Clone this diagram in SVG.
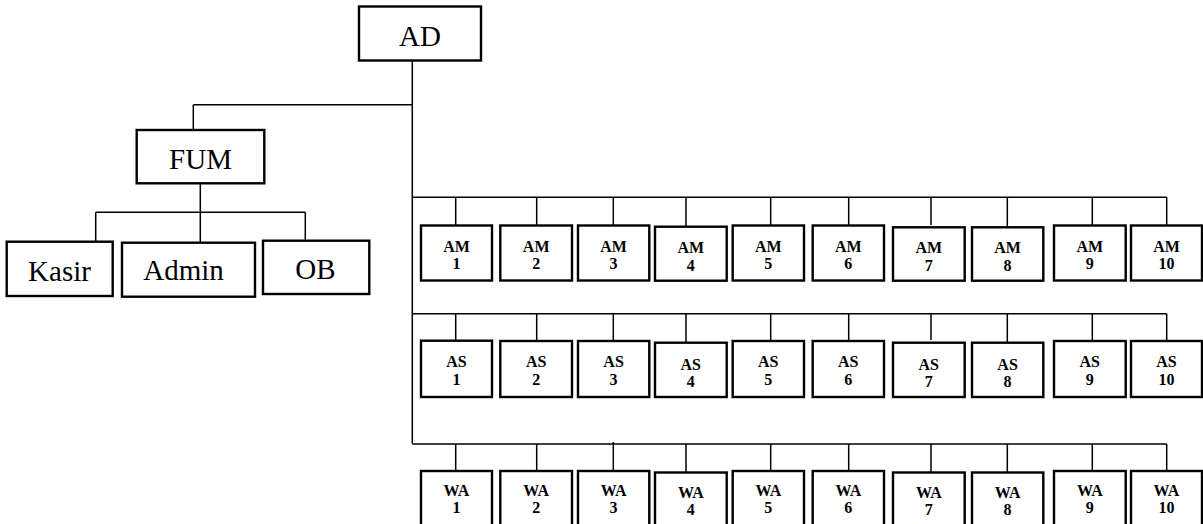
<svg xmlns="http://www.w3.org/2000/svg" width="1203" height="524" viewBox="0 0 1203 524">
<style>
.bx{fill:#fff;stroke:#000;stroke-width:2.4}
.ln{fill:none;stroke:#000;stroke-width:1.5}
.big{font-family:'Liberation Serif','Times New Roman',serif;font-size:29px;text-anchor:middle;fill:#000}
.sm{font-family:'Liberation Serif','Times New Roman',serif;font-size:16px;font-weight:bold;text-anchor:middle;fill:#000}
</style>
<rect width="1203" height="524" fill="#fff"/>
<g id="connectors" class="ln">
<path d="M412.3 60 V443.5"/>
<path d="M193.3 104.7 H412.3 M193.3 104.7 V130"/>
<path d="M200.3 183 V212.3 M95.7 212.3 H305.3 M95.7 212.3 V242 M200.3 212.3 V243 M305.3 212.3 V240"/>
<path d="M412.3 197.3 H1166.7"/>
<path d="M455.7 197.3 V225 M536.7 197.3 V225 M613.3 197.3 V225 M686 197.3 V226.5 M770.7 197.3 V225 M848.7 197.3 V225 M931 197.3 V225 M1007.3 197.3 V227 M1092.3 197.3 V225 M1166.7 197.3 V225"/>
<path d="M412.3 313.7 H1166.7"/>
<path d="M455.7 313.7 V341 M536.7 313.7 V341 M613.3 313.7 V341 M686 313.7 V343 M770.7 313.7 V341 M848.7 313.7 V341 M931 313.7 V340 M1007.3 313.7 V343 M1092.3 313.7 V341 M1166.7 313.7 V341"/>
<path d="M412.3 444 H1166.7"/>
<path d="M455.7 444 V471 M536.7 444 V471 M613.3 442 V471 M686 444 V472.5 M770.7 444 V471 M848.7 444 V471 M931 444 V472.5 M1007.3 444 V472.5 M1092.3 444 V471 M1166.7 444 V471"/>
</g>
<g id="AD"><rect class="bx" x="359" y="6.5" width="122" height="54"/><text class="big" x="420" y="45.7">AD</text></g>
<g id="FUM"><rect class="bx" x="136.7" y="130" width="127.6" height="53.3"/><text class="big" x="200.5" y="169">FUM</text></g>
<g id="Kasir"><rect class="bx" x="6.7" y="241.7" width="106" height="54.3"/><text class="big" x="59.5" y="280.7">Kasir</text></g>
<g id="Admin"><rect class="bx" x="122" y="242.7" width="133" height="54"/><text class="big" x="183.5" y="280">Admin</text></g>
<g id="OB"><rect class="bx" x="263" y="240.7" width="106.3" height="53.3"/><text class="big" x="315.5" y="279.3">OB</text></g>

<g id="AM1"><rect class="bx" x="421" y="225.5" width="71" height="55"/><text class="sm" x="456.5" y="251.7">AM</text><text class="sm" x="456.5" y="269.3">1</text></g>
<g id="AM2"><rect class="bx" x="500.3" y="225.5" width="71.7" height="55"/><text class="sm" x="536.2" y="251.7">AM</text><text class="sm" x="536.2" y="269.3">2</text></g>
<g id="AM3"><rect class="bx" x="578" y="225.5" width="71.3" height="55"/><text class="sm" x="613.6" y="251.7">AM</text><text class="sm" x="613.6" y="269.3">3</text></g>
<g id="AM4"><rect class="bx" x="655" y="226.7" width="71.7" height="54"/><text class="sm" x="690.8" y="253">AM</text><text class="sm" x="690.8" y="270.5">4</text></g>
<g id="AM5"><rect class="bx" x="732.7" y="225.5" width="71.3" height="55"/><text class="sm" x="768.3" y="251.7">AM</text><text class="sm" x="768.3" y="269.3">5</text></g>
<g id="AM6"><rect class="bx" x="812.7" y="225.5" width="71.3" height="55"/><text class="sm" x="848.3" y="251.7">AM</text><text class="sm" x="848.3" y="269.3">6</text></g>
<g id="AM7"><rect class="bx" x="893" y="227.3" width="71.7" height="53.4"/><text class="sm" x="928.8" y="253">AM</text><text class="sm" x="928.8" y="270.5">7</text></g>
<g id="AM8"><rect class="bx" x="972" y="227.3" width="71.3" height="53.4"/><text class="sm" x="1007.6" y="253">AM</text><text class="sm" x="1007.6" y="270.5">8</text></g>
<g id="AM9"><rect class="bx" x="1054" y="225.5" width="71.7" height="55"/><text class="sm" x="1089.8" y="251.7">AM</text><text class="sm" x="1089.8" y="269.3">9</text></g>
<g id="AM10"><rect class="bx" x="1131" y="225.5" width="71" height="55"/><text class="sm" x="1166.5" y="251.7">AM</text><text class="sm" x="1166.5" y="269.3">10</text></g>

<g id="AS1"><rect class="bx" x="421" y="340.7" width="71" height="56.3"/><text class="sm" x="456.5" y="366.7">AS</text><text class="sm" x="456.5" y="385">1</text></g>
<g id="AS2"><rect class="bx" x="500.3" y="341" width="71.7" height="56"/><text class="sm" x="536.2" y="366.7">AS</text><text class="sm" x="536.2" y="385">2</text></g>
<g id="AS3"><rect class="bx" x="578" y="341" width="71.3" height="56"/><text class="sm" x="613.6" y="366.7">AS</text><text class="sm" x="613.6" y="385">3</text></g>
<g id="AS4"><rect class="bx" x="655" y="342.7" width="71.7" height="54.3"/><text class="sm" x="690.8" y="370">AS</text><text class="sm" x="690.8" y="386.5">4</text></g>
<g id="AS5"><rect class="bx" x="732.7" y="341" width="71.3" height="56"/><text class="sm" x="768.3" y="366.7">AS</text><text class="sm" x="768.3" y="385">5</text></g>
<g id="AS6"><rect class="bx" x="812.7" y="341" width="71.3" height="56"/><text class="sm" x="848.3" y="366.7">AS</text><text class="sm" x="848.3" y="385">6</text></g>
<g id="AS7"><rect class="bx" x="893" y="342.7" width="71.7" height="54.3"/><text class="sm" x="928.8" y="370">AS</text><text class="sm" x="928.8" y="386.5">7</text></g>
<g id="AS8"><rect class="bx" x="972" y="342.7" width="71.3" height="54.3"/><text class="sm" x="1007.6" y="370">AS</text><text class="sm" x="1007.6" y="386.5">8</text></g>
<g id="AS9"><rect class="bx" x="1054" y="341" width="71.7" height="56"/><text class="sm" x="1089.8" y="366.7">AS</text><text class="sm" x="1089.8" y="385">9</text></g>
<g id="AS10"><rect class="bx" x="1131" y="341" width="71" height="56"/><text class="sm" x="1166.5" y="366.7">AS</text><text class="sm" x="1166.5" y="385">10</text></g>

<g id="WA1"><rect class="bx" x="421" y="471" width="71" height="60"/><text class="sm" x="456.5" y="496">WA</text><text class="sm" x="456.5" y="513.3">1</text></g>
<g id="WA2"><rect class="bx" x="500.3" y="471" width="71.7" height="60"/><text class="sm" x="536.2" y="496">WA</text><text class="sm" x="536.2" y="513.3">2</text></g>
<g id="WA3"><rect class="bx" x="578" y="471" width="71.3" height="60"/><text class="sm" x="613.6" y="496">WA</text><text class="sm" x="613.6" y="513.3">3</text></g>
<g id="WA4"><rect class="bx" x="655" y="472.5" width="71.7" height="60"/><text class="sm" x="690.8" y="498">WA</text><text class="sm" x="690.8" y="515">4</text></g>
<g id="WA5"><rect class="bx" x="732.7" y="471" width="71.3" height="60"/><text class="sm" x="768.3" y="496">WA</text><text class="sm" x="768.3" y="513.3">5</text></g>
<g id="WA6"><rect class="bx" x="812.7" y="471" width="71.3" height="60"/><text class="sm" x="848.3" y="496">WA</text><text class="sm" x="848.3" y="513.3">6</text></g>
<g id="WA7"><rect class="bx" x="893" y="472.5" width="71.7" height="60"/><text class="sm" x="928.8" y="498">WA</text><text class="sm" x="928.8" y="515">7</text></g>
<g id="WA8"><rect class="bx" x="972" y="472.5" width="71.3" height="60"/><text class="sm" x="1007.6" y="498">WA</text><text class="sm" x="1007.6" y="515">8</text></g>
<g id="WA9"><rect class="bx" x="1054" y="471" width="71.7" height="60"/><text class="sm" x="1089.8" y="496">WA</text><text class="sm" x="1089.8" y="513.3">9</text></g>
<g id="WA10"><rect class="bx" x="1131" y="471" width="71" height="60"/><text class="sm" x="1166.5" y="496">WA</text><text class="sm" x="1166.5" y="513.3">10</text></g>
</svg>
